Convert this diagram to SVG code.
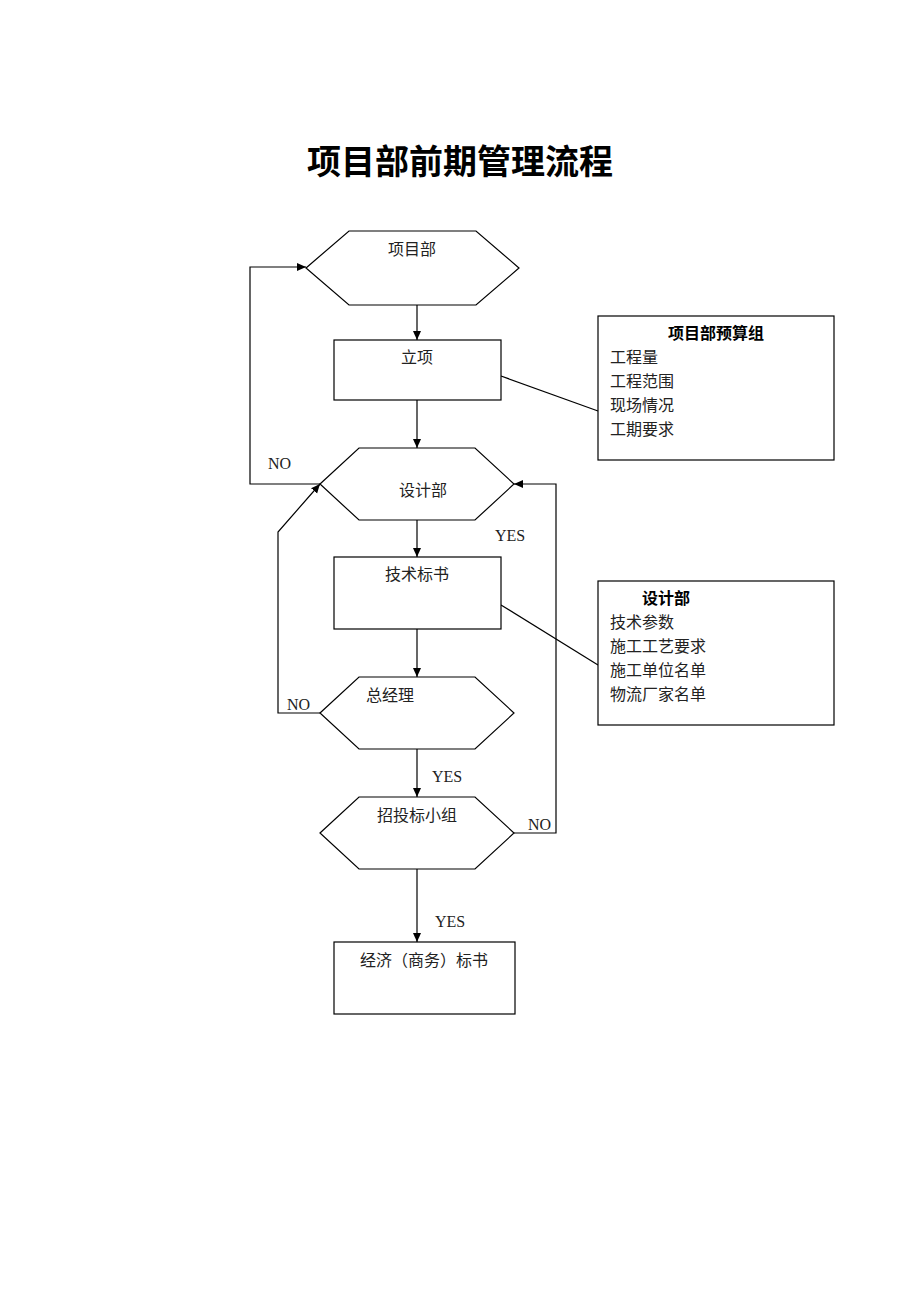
<svg xmlns="http://www.w3.org/2000/svg" width="920" height="1302" viewBox="0 0 920 1302">
<defs>
<marker id="ah" markerWidth="10" markerHeight="10" refX="9" refY="5" orient="auto" markerUnits="userSpaceOnUse">
<path d="M0,1 L9,5 L0,9 Z" fill="#000"/>
</marker>
<style>
.s{fill:#fff;stroke:#000;stroke-width:1.2}
.c{fill:none;stroke:#000;stroke-width:1.2}
.t{font-family:"Noto Sans CJK SC",sans-serif;font-size:16px;fill:#222;dominant-baseline:central}
.m{text-anchor:middle}
.b{font-weight:bold;fill:#000}
.l{font-family:"Liberation Serif",serif;font-size:16px;fill:#222;dominant-baseline:central}
</style>
</defs>
<rect width="920" height="1302" fill="#fff"/>
<text x="460" y="159" text-anchor="middle" dominant-baseline="central" font-family="Noto Sans CJK SC, sans-serif" font-size="34" font-weight="bold" fill="#000">项目部前期管理流程</text>

<g id="connectors">
<line class="c" x1="417" y1="305" x2="417" y2="340" marker-end="url(#ah)"/>
<line class="c" x1="417" y1="400" x2="417" y2="448" marker-end="url(#ah)"/>
<line class="c" x1="417" y1="520" x2="417" y2="557" marker-end="url(#ah)"/>
<line class="c" x1="417" y1="629" x2="417" y2="677" marker-end="url(#ah)"/>
<line class="c" x1="417" y1="749" x2="417" y2="797" marker-end="url(#ah)"/>
<line class="c" x1="417" y1="869" x2="417" y2="942" marker-end="url(#ah)"/>
<polyline class="c" points="320,484 250,484 250,267 306,267" marker-end="url(#ah)"/>
<polyline class="c" points="320,713 278,713 278,532 320,484" marker-end="url(#ah)"/>
<polyline class="c" points="514,833 556,833 556,484 514,484" marker-end="url(#ah)"/>
<line class="c" x1="501" y1="376" x2="598" y2="411"/>
<line class="c" x1="501" y1="605" x2="598" y2="665"/>
<text class="l" x="268" y="463">NO</text>
<text class="l" x="287" y="704">NO</text>
<text class="l" x="528" y="824">NO</text>
<text class="l" x="495" y="535">YES</text>
<text class="l" x="432" y="776">YES</text>
<text class="l" x="435" y="921">YES</text>
</g>

<g id="n-xiangmubu">
<polygon class="s" points="306,268 349,231 476,231 519,268 476,305 349,305"/>
<text class="t m" x="412" y="248">项目部</text>
</g>
<g id="n-lixiang">
<rect class="s" x="334" y="340" width="167" height="60"/>
<text class="t m" x="417" y="356">立项</text>
</g>
<g id="n-shejibu">
<polygon class="s" points="320,484 359,448 475,448 514,484 475,520 359,520"/>
<text class="t m" x="423" y="489">设计部</text>
</g>
<g id="n-jishubiaoshu">
<rect class="s" x="334" y="557" width="167" height="72"/>
<text class="t m" x="417" y="573">技术标书</text>
</g>
<g id="n-zongjingli">
<polygon class="s" points="320,713 359,677 475,677 514,713 475,749 359,749"/>
<text class="t m" x="390" y="694">总经理</text>
</g>
<g id="n-zhaotoubiao">
<polygon class="s" points="320,833 359,797 475,797 514,833 475,869 359,869"/>
<text class="t m" x="417" y="814">招投标小组</text>
</g>
<g id="n-jingji">
<rect class="s" x="334" y="942" width="181" height="72"/>
<text class="t m" x="424" y="959">经济（商务）标书</text>
</g>
<g id="n-yusuanzu">
<rect class="s" x="598" y="316" width="236" height="144"/>
<text class="t m b" x="716" y="332">项目部预算组</text>
<text class="t" x="610" y="356">工程量</text>
<text class="t" x="610" y="380">工程范围</text>
<text class="t" x="610" y="404">现场情况</text>
<text class="t" x="610" y="428">工期要求</text>
</g>
<g id="n-shejibu-note">
<rect class="s" x="598" y="581" width="236" height="144"/>
<text class="t m b" x="666" y="597">设计部</text>
<text class="t" x="610" y="621">技术参数</text>
<text class="t" x="610" y="645">施工工艺要求</text>
<text class="t" x="610" y="669">施工单位名单</text>
<text class="t" x="610" y="693">物流厂家名单</text>
</g>
</svg>
